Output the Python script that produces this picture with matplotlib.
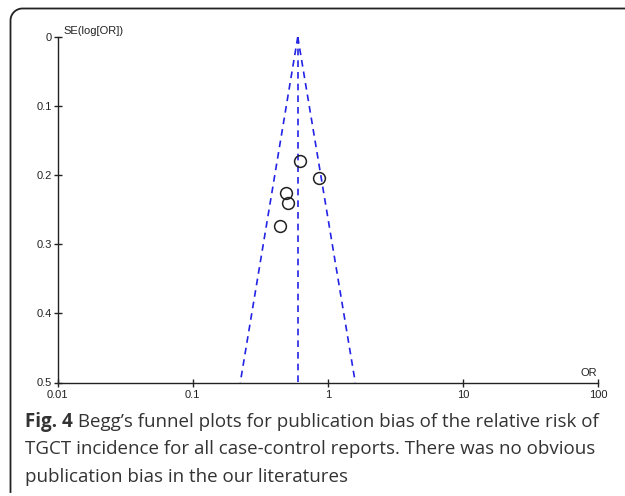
import numpy as np
import matplotlib
matplotlib.use("Agg")
import matplotlib.pyplot as plt
from matplotlib.lines import Line2D

# study estimates
odds_ratio = [0.62, 0.86, 0.49, 0.51, 0.44]
se_log_or = [0.179, 0.204, 0.226, 0.240, 0.273]
pooled_or = 0.60
z = 1.96

x_ticks = [0.01, 0.1, 1, 10, 100]
x_tick_labels = ["0.01", "0.1", "1", "10", "100"]
y_ticks = [0, 0.1, 0.2, 0.3, 0.4, 0.5]
y_tick_labels = ["0", "0.1", "0.2", "0.3", "0.4", "0.5"]

caption_bold = "Fig. 4"
caption_lines = [
    " Begg\u2019s funnel plots for publication bias of the relative risk of",
    "TGCT incidence for all case-control reports. There was no obvious",
    "publication bias in the our literatures",
]

W, H = 625, 496
fig = plt.figure(figsize=(6.25, 4.96), dpi=100)

# frame: left edge + rounded top-left corner + top edge (pixel coords)
r = 12
ang = np.linspace(np.pi, np.pi / 2, 20)
fx = np.concatenate([[10.5], 10.5 + r + r * np.cos(ang), [626]])
fy = np.concatenate([[492], 8.5 + r - r * np.sin(ang), [8.5]])
fig.add_artist(Line2D(fx / W, 1 - fy / H, transform=fig.transFigure,
                      color="#222222", lw=1.3))

ax = fig.add_axes([57.5 / W, 1 - 382.5 / H, 540.5 / W, 345.5 / H])
ax.set_xscale("log")
ax.set_xlim(0.01, 100)
ax.set_ylim(0.5, 0)

se_range = np.array([0.0, 0.5])
lo = np.exp(np.log(pooled_or) - z * se_range)
hi = np.exp(np.log(pooled_or) + z * se_range)
blue = "#2323e6"
ax.plot(lo, se_range, color=blue, ls=(0, (4, 3)), lw=1.2)
ax.plot(hi, se_range, color=blue, ls=(0, (4, 3)), lw=1.2)
ax.plot([pooled_or, pooled_or], se_range, color=blue, ls=(0, (4, 3)), lw=1.2)

ax.plot(odds_ratio, se_log_or, "o", mfc="none", mec="#222222", ms=8.5, mew=1.1)

for s in ["top", "right"]:
    ax.spines[s].set_visible(False)
for s in ["left", "bottom"]:
    ax.spines[s].set_linewidth(1.0)
    ax.spines[s].set_color("#222222")

ax.set_xticks(x_ticks)
ax.set_xticklabels(x_tick_labels)
ax.minorticks_off()
ax.set_yticks(y_ticks)
ax.set_yticklabels(y_tick_labels)
ax.tick_params(direction="inout", length=6, width=1, colors="#222222",
               labelsize=8)
ax.tick_params(axis="x", pad=2.5)
ax.tick_params(axis="y", pad=1)
for lab in ax.get_xticklabels() + ax.get_yticklabels():
    lab.set_family("Liberation Sans")

ax.text(63 / W, 1 - 31 / H, "SE(log[OR])", transform=fig.transFigure,
        fontsize=8, family="Liberation Sans", color="#222222", va="center")
ax.text(597 / W, 1 - 373 / H, "OR", transform=fig.transFigure,
        fontsize=8, family="Liberation Sans", color="#222222",
        va="center", ha="right")

cap_color = "#333333"
cap_size = 13.5
cap_x = 25
t = fig.text(cap_x / W, 1 - 427 / H, caption_bold, fontsize=cap_size,
             family="Open Sans", weight="bold", color=cap_color,
             va="baseline")
fig.canvas.draw()
bb = t.get_window_extent()
fig.text(bb.x1 / W, 1 - 427 / H, caption_lines[0], fontsize=cap_size,
         family="Open Sans", color=cap_color, va="baseline")
fig.text(cap_x / W, 1 - 454.5 / H, caption_lines[1], fontsize=cap_size,
         family="Open Sans", color=cap_color, va="baseline")
fig.text(cap_x / W, 1 - 482 / H, caption_lines[2], fontsize=cap_size,
         family="Open Sans", color=cap_color, va="baseline")

fig.savefig("out.png", dpi=100)
